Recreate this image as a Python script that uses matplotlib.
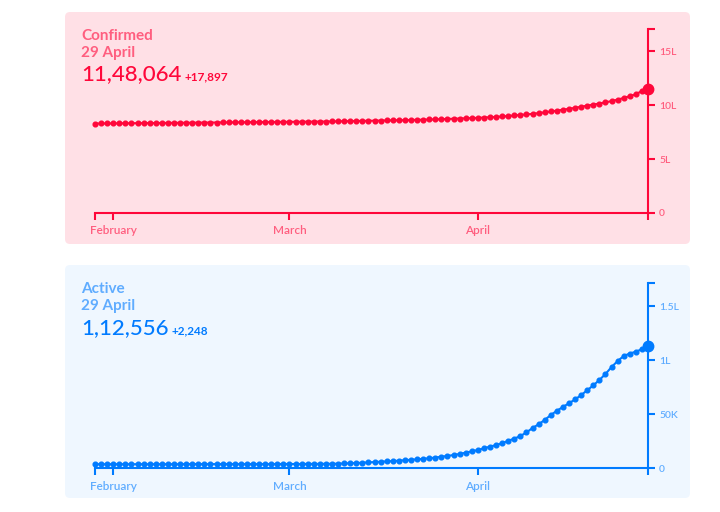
import pandas as pd
import matplotlib.pyplot as plt
from matplotlib.patches import FancyBboxPatch

plt.rcParams['font.family'] = ['Lato', 'DejaVu Sans']

# daily values, 29 Jan .. 29 Apr
dates = pd.date_range("2020-01-29", "2020-04-29", freq="D")

confirmed_lakh = [
    8.28, 8.29, 8.29, 8.30, 8.30, 8.31, 8.31, 8.32, 8.32, 8.33,
    8.33, 8.34, 8.34, 8.35, 8.35, 8.36, 8.36, 8.37, 8.37, 8.38,
    8.38, 8.39, 8.39, 8.40, 8.40, 8.41, 8.41, 8.42, 8.42, 8.43,
    8.43, 8.44, 8.44, 8.45, 8.45, 8.46, 8.46, 8.47, 8.47, 8.48,
    8.49, 8.50, 8.51, 8.52, 8.53, 8.54, 8.55, 8.56, 8.57, 8.58,
    8.59, 8.60, 8.61, 8.63, 8.64, 8.66, 8.67, 8.69, 8.71, 8.73,
    8.75, 8.77, 8.79, 8.81, 8.84, 8.87, 8.90, 8.94, 8.98, 9.03,
    9.08, 9.13, 9.18, 9.25, 9.32, 9.40, 9.48, 9.56, 9.65, 9.74,
    9.84, 9.94, 10.04, 10.14, 10.25, 10.36, 10.50, 10.65, 10.82, 11.00,
    11.30, 11.48064,
]

active_k = [
    3.5, 3.5, 3.5, 3.5, 3.5, 3.5, 3.5, 3.5, 3.5, 3.5,
    3.5, 3.5, 3.5, 3.5, 3.5, 3.6, 3.6, 3.6, 3.6, 3.6,
    3.6, 3.6, 3.6, 3.6, 3.6, 3.6, 3.6, 3.6, 3.6, 3.6,
    3.7, 3.7, 3.7, 3.7, 3.7, 3.8, 3.8, 3.8, 3.9, 3.9,
    4.0, 4.2, 4.4, 4.6, 4.9, 5.2, 5.5, 5.8, 6.1, 6.4,
    6.8, 7.2, 7.6, 8.0, 8.5, 9.0, 9.7, 10.4, 11.2, 12.0,
    13.0, 14.2, 15.4, 16.7, 18.2, 19.8, 21.2, 23.0, 25.2, 27.2,
    29.6, 33.0, 37.0, 40.5, 44.5, 49.0, 53.0, 56.5, 60.0, 63.5,
    67.5, 72.0, 76.5, 81.5, 87.0, 93.5, 99.0, 103.7, 106.0, 107.7,
    110.0, 112.556,
]

confirmed = [v * 1e5 for v in confirmed_lakh]
active = [v * 1e3 for v in active_k]

month_ticks = pd.to_datetime(["2020-02-01", "2020-03-01", "2020-04-01"])
month_labels = ["February", "March", "April"]

conf_ticks = [0, 5e5, 10e5, 15e5]
conf_labels = ["0", "5L", "10L", "15L"]
act_ticks = [0, 5e4, 1e5, 1.5e5]
act_labels = ["0", "50K", "1L", "1.5L"]

W, H = 720, 512
fig = plt.figure(figsize=(W / 100, H / 100), dpi=100)


def fx(x):
    return x / W


def fy(y):
    return 1 - y / H


def card(y0, y1, bg):
    box = FancyBboxPatch((fx(65), fy(y1)), fx(690) - fx(65), fy(y0) - fy(y1),
                         boxstyle="round,pad=0,rounding_size=0.007",
                         mutation_aspect=W / H,
                         transform=fig.transFigure, facecolor=bg,
                         edgecolor="none", zorder=-5)
    fig.patches.append(box)


def chart(top, bottom, color, light, values, ymax, yticks, ylabels):
    ax = fig.add_axes([fx(95), fy(bottom), fx(648) - fx(95), fy(top) - fy(bottom)])
    ax.set_facecolor("none")
    ax.plot(dates, values, color=color, lw=1.5, marker="o", ms=3.4,
            clip_on=False, zorder=3)
    ax.plot(dates[-1], values[-1], "o", color=color, ms=7.5, clip_on=False, zorder=4)
    ax.set_xlim(dates[0], dates[-1])
    ax.set_ylim(0, ymax)
    ax.spines["left"].set_visible(False)
    ax.spines["top"].set_visible(False)
    for s in ["bottom", "right"]:
        ax.spines[s].set_color(color)
        ax.spines[s].set_linewidth(1.5)
    ax.yaxis.tick_right()
    ax.set_yticks(yticks, ylabels)
    ax.set_yticks([ymax], minor=True)
    ax.set_xticks(month_ticks, month_labels)
    ax.set_xticks([dates[0], dates[-1]], minor=True)
    ax.tick_params(which="both", color=color, length=5, width=1.5,
                   labelsize=7.5, labelcolor=light)
    ax.tick_params(axis="x", pad=4, labelsize=8.5)
    ax.tick_params(axis="y", pad=3)
    for t in ax.get_xticklabels() + ax.get_yticklabels():
        t.set_fontweight("semibold")
    return ax


def header(y, name, number, delta, delta_x, color, light):
    fig.text(fx(81), fy(y), name, color=light, fontsize=11, fontweight="bold")
    fig.text(fx(81), fy(y + 17), "29 April", color=light, fontsize=11, fontweight="bold")
    fig.text(fx(81), fy(y + 41), number, color=color, fontsize=16, fontweight="medium")
    fig.text(fx(delta_x), fy(y + 41), delta, color=color, fontsize=8.5, fontweight="bold")


red, red_light = "#ff073a", "#ff073a99"
blue, blue_light = "#007bff", "#007bff99"

card(12, 244, "#ffe0e6")
card(265, 498, "#eff7ff")

chart(29, 213, red, red_light, confirmed, 17.04e5, conf_ticks, conf_labels)
chart(283, 468, blue, blue_light, active, 171.3e3, act_ticks, act_labels)

header(39.5, "Confirmed", "11,48,064", "+17,897", 185, red, red_light)
header(293, "Active", "1,12,556", "+2,248", 171, blue, blue_light)

fig.savefig("out.png", dpi=100)
